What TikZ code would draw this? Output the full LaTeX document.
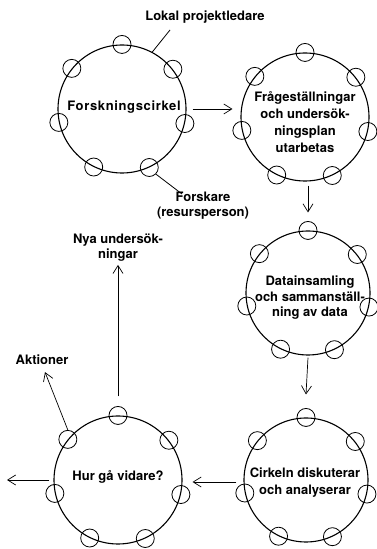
\documentclass[tikz,border=0pt]{standalone}
\usepackage{fontspec}
\setmainfont{TeX Gyre Heros}
\usetikzlibrary{arrows.meta,calc}
\begin{document}
\begin{tikzpicture}[x=1pt,y=1pt,
  bigc/.style={circle,draw,line width=1.1pt,minimum size=#1,inner sep=0pt},
  smallc/.style={circle,draw,line width=0.8pt,minimum size=18pt,inner sep=0pt},
  txt/.style={font=\bfseries\fontsize{13}{17}\selectfont,align=center,inner sep=1pt},
  arr/.style={-{Straight Barb[length=8pt,width=10pt]},line width=0.7pt},
  lead/.style={line width=0.8pt}]
\useasboundingbox (0,0) rectangle (376,549);
% big circles
\node[bigc=128pt] (c1) at (122,440) {};
\node[bigc=128pt] (c2) at (305,432) {};
\node[bigc=124pt] (c3) at (308,256) {};
\node[bigc=124pt] (c4) at (306,69) {};
\node[bigc=128pt] (c5) at (118,69) {};
% small circles (persons)
\foreach \cc in {c1,c2,c3,c4,c5}{
  \foreach \i in {1,...,7}{
    \pgfmathsetmacro\ang{90+(\i-1)*51.4286}
    \node[smallc] (\cc s\i) at (\cc.\ang) {};
  }
}
% texts in circles
\node[txt] (t1) at (124,442) {\addfontfeature{LetterSpace=5}Forskningscirkel};
\node[txt] (t2) at (305,427) {Frågeställningar\\och undersök-\\ningsplan\\utarbetas};
\node[txt,font=\bfseries\fontsize{13}{15.5}\selectfont] (t3) at (310,251) {Datainsamling\\och sammanställ-\\ning av data};
\node[txt] (t4) at (305,66) {Cirkeln diskuterar\\och analyserar};
\node[txt] (t5) at (118,72) {Hur gå vidare?};
% outer labels
\node[txt] (lok) at (205,532) {Lokal projektledare};
\node[txt,font=\bfseries\fontsize{13}{15}\selectfont] (fors) at (203,343) {Forskare\\(resursperson)};
\node[txt,font=\bfseries\fontsize{13}{15}\selectfont] (nya) at (118,301) {Nya undersök-\\ningar};
\node[txt] (akt) at (42,189) {Aktioner};
% leader lines
\coordinate (lokend) at (170,519);
\coordinate (forend) at (182,355);
\draw[lead] (c1.62) -- (lokend);
\draw[lead] (c1s5.-45) -- (forend);
% flow arrows
\coordinate (outl) at (7,69);
\draw[arr] ([xshift=6pt]c1.east) -- ([xshift=-8pt]c1.east -| c2.west);
\draw[arr] ([yshift=-4pt]c2.south -| c3.north) -- ([yshift=18pt]c3.north);
\draw[arr] ([yshift=-2pt]c3.south) -- ([yshift=23pt]c4.north);
\draw[arr] ([xshift=-7pt]c4.west |- 0,67) -- ([xshift=10pt]c5.east |- 0,67);
\draw[arr] ([xshift=-4pt]c5.west) -- (outl);
\draw[arr] ([yshift=19pt]c5.north) -- ([yshift=-2pt]nya.south);
\draw[arr] (c5s2.north) -- ([xshift=3pt,yshift=-6pt]akt.south);
\end{tikzpicture}
\end{document}
